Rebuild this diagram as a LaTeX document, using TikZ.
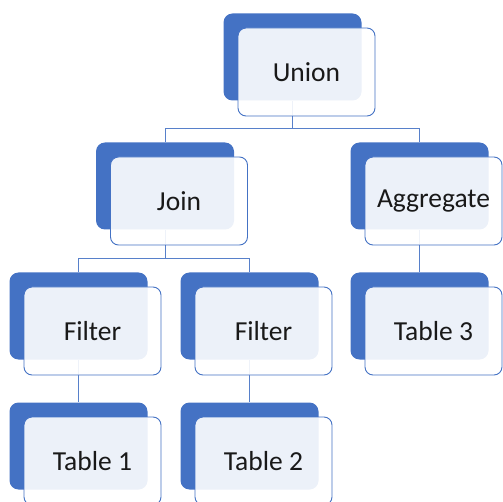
\documentclass[tikz,border=0pt]{standalone}
\usepackage{fontspec}
\setmainfont{Carlito}
\usepackage{tikz}
\usetikzlibrary{positioning}
\definecolor{accent}{HTML}{4472C4}
\tikzset{
  backbox/.style={fill=accent, draw=none, rounded corners=9pt,
    minimum width=138pt, minimum height=87pt, inner sep=0pt},
  frontbox/.style={fill=white, fill opacity=0.9, text opacity=1, draw=accent,
    line width=0.9pt, rounded corners=8pt, minimum width=137pt,
    minimum height=88pt, inner sep=0pt, text=black!90,
    font=\fontsize{27.5}{33}\selectfont},
  link/.style={draw=accent!90, line width=0.9pt}
}

\begin{document}
\begin{tikzpicture}[x=1pt,y=-1pt]
\newcommand{\offx}{14pt}
\newcommand{\offy}{15pt}
\useasboundingbox (0,0) rectangle (503,502);
%% back boxes
\node[backbox] (unionb) at (292.5,57) {};
\node[backbox] (joinb) at (165,186) {};
\node[backbox] (aggb) at (419.5,186) {};
\node[backbox] (filtab) at (78.5,316) {};
\node[backbox] (filtbb) at (249.5,316) {};
\node[backbox] (tabcb) at (419.5,316) {};
\node[backbox] (tabab) at (78.5,446) {};
\node[backbox] (tabbb) at (249.5,446) {};
%% connectors
\coordinate (busa) at (0,128.5);
\coordinate (busb) at (0,258.5);
\draw[link] (unionb.south) -- (unionb.south |- busa) -| (joinb.north);
\draw[link] (unionb.south |- busa) -| (aggb.north);
\draw[link] (joinb.south) -- (joinb.south |- busb) -| (filtab.north);
\draw[link] (joinb.south |- busb) -| (filtbb.north);
\draw[link] (aggb.south) -- (tabcb.north);
\draw[link] (filtab.south) -- (tabab.north);
\draw[link] (filtbb.south) -- (tabbb.north);
%% front boxes
\node[frontbox, xshift=\offx, yshift=-\offy] (union) at (unionb) {Union};
\node[frontbox, xshift=\offx, yshift=-\offy] (join) at (joinb) {Join};
\node[frontbox, xshift=\offx, yshift=-\offy] (agg) at (aggb) {Aggregate};
\node[frontbox, xshift=\offx, yshift=-\offy] (filta) at (filtab) {Filter};
\node[frontbox, xshift=\offx, yshift=-\offy] (filtb) at (filtbb) {Filter};
\node[frontbox, xshift=\offx, yshift=-\offy] (tabc) at (tabcb) {Table 3};
\node[frontbox, xshift=\offx, yshift=-\offy] (taba) at (tabab) {Table 1};
\node[frontbox, xshift=\offx, yshift=-\offy] (tabb) at (tabbb) {Table 2};
\end{tikzpicture}
\end{document}
